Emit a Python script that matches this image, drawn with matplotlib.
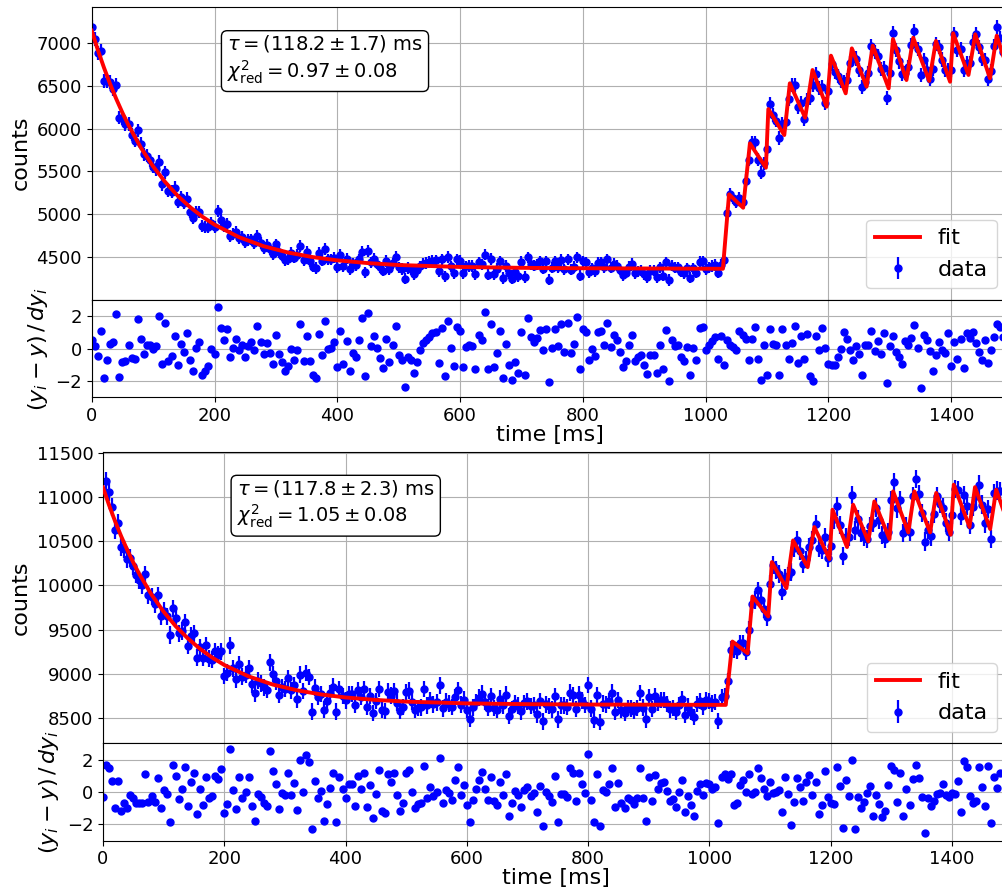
import numpy as np
import matplotlib
matplotlib.use("Agg")
import matplotlib.pyplot as plt

# ---- measurement 1 ----
# fit curve vertices (time in ms, counts)
fit1_t = [0, 10, 20, 30, 40, 50, 60, 80, 100, 120, 140, 160, 180, 200, 240, 280,
          320, 360, 400, 450, 500, 600, 700, 800, 1028,
          1038, 1061, 1072, 1098, 1102, 1128, 1137, 1162, 1174, 1197, 1204, 1228,
          1238, 1262, 1272, 1298, 1305, 1327, 1338, 1364, 1375, 1398, 1403, 1428,
          1439, 1463, 1474, 1496]
fit1_y = [7140, 6915, 6709, 6519, 6345, 6185, 6037, 5778, 5559, 5374, 5217, 5085,
          4974, 4880, 4734, 4629, 4555, 4502, 4464, 4432, 4410, 4387, 4377, 4372, 4366,
          5233, 5077, 5827, 5543, 6227, 5924, 6527, 6126, 6682, 6254, 6849, 6410,
          6934, 6487, 6965, 6468, 7043, 6565, 7058, 6554, 7020, 6545, 7110, 6624,
          7098, 6585, 7082, 6590]

# normalised residuals, one every 5 ms
res1 = [0.53, 0.18, -0.45, 1.08, -1.83, -0.69, 0.28, 0.37, 2.09, -1.75,
        -0.85, -0.77, 0.22, -0.57, -0.63, 1.81, 0.59, -0.32, 0.22, 0.24,
        -0.02, 0.14, 2.01, -0.95, 1.58, -0.79, -0.43, 0.77, -1.04, 0.30,
        -0.22, 0.93, -0.73, -1.40, 0.02, 0.41, -1.60, -1.36, -1.08, -0.06,
        -0.32, 2.54, 1.26, 0.53, 1.20, -0.53, 0.04, 0.61, -0.12, 0.22,
        -0.49, 0.14, 0.39, -0.08, 1.40, 0.41, -0.32, 0.35, -0.26, -0.93,
        0.85, -0.32, -0.81, -1.40, -1.08, -0.02, -0.69, -0.12, 1.50, -0.77,
        0.77, -0.77, -1.64, -1.81, 0.89, -0.39, 1.71, -0.02, 0.04, 0.39,
        -1.14, 1.06, -0.93, 0.43, -1.40, -0.28, -0.53, 0.49, 1.85, -1.69,
        2.15, 0.14, 0.79, 0.02, -0.59, -1.18, 0.59, -0.83, 0.22, 1.40,
        -0.39, -0.69, -2.36, -0.49, -0.69, -1.48, -0.83, -0.12, 0.35, 0.53,
        0.73, 0.93, 1.00, -0.89, 1.24, -1.71, 1.71, 0.04, -1.08, 1.30,
        1.08, -1.14, 0.10, 0.20, 0.18, -1.28, 0.85, 0.53, 2.21, -1.28,
        1.50, -1.16, -0.28, 1.08, -1.81, 0.28, -0.99, -1.91, -0.83, -1.48,
        1.04, -1.64, 1.87, 0.69, 0.39, 0.63, 1.14, -0.12, 1.20, -2.05,
        0.04, 1.18, 0.18, 1.50, -0.22, 1.56, -0.26, 0.28, 1.91, -1.28,
        1.20, 1.04, -0.69, -0.02, -0.47, 0.99, 1.08, 0.22, 1.56, 0.12,
        0.85, 0.49, -0.22, -1.14, -0.77, 0.24, 0.81, -0.79, -0.51, -0.39,
        -1.04, -1.56, -0.39, -0.39, -1.52, 0.22, -1.28, 1.12, -2.01, 0.49,
        0.18, 0.22, -0.55, -0.79, 0.08, -1.60, 0.04, -0.69, 1.24, 1.30,
        -0.12, 0.22, 0.47, 0.69, -0.67, 0.75, -1.04, 0.53, 0.24, 0.08,
        -0.08, 1.06, 0.83, 0.59, -0.73, 0.57, 1.30, -0.63, -1.95, 0.24,
        -1.64, 1.20, 0.30, 0.22, -1.64, 1.20, 0.22, -0.67, 0.35, 1.36,
        -0.89, 0.75, -0.63, 0.89, -1.69, -1.97, 0.75, -0.08, 1.24, 0.02,
        -0.93, -0.99, -1.04, -0.49, -0.02, 0.99, 0.57, -0.12, -0.69, 0.14,
        -0.32, -1.64, 0.22, 0.22, 1.10, -0.18, 0.45, -0.32, 0.97, -2.09,
        0.16, 0.77, -0.22, -0.53, -0.97, 0.45, 0.24, 0.63, 1.42, 0.06,
        -2.42, 0.85, 0.55, -0.18, -1.36, -0.39, 0.41, -0.12, -0.28, 0.95,
        -1.06, 0.39, -0.67, 0.61, -1.22, 0.93, 0.65, 0.99, 0.32, -0.22,
        -0.69, 0.53, -0.87, -0.12, 0.73, 1.48, 1.30, 0.69, -0.63]

# ---- measurement 2 ----
fit2_t = [0, 10, 20, 30, 40, 50, 60, 80, 100, 120, 140, 160, 180, 200, 240, 280,
          320, 360, 400, 450, 500, 600, 700, 800, 1027,
          1038, 1063, 1071, 1097, 1103, 1127, 1138, 1162, 1173, 1198, 1203, 1227,
          1237, 1262, 1272, 1297, 1303, 1328, 1338, 1364, 1374, 1398, 1403, 1429,
          1438, 1463, 1473, 1496]
fit2_y = [11110, 10910, 10726, 10557, 10402, 10259, 10128, 9897, 9703, 9538, 9400,
          9283, 9184, 9100, 8971, 8878, 8813, 8766, 8732, 8704, 8685, 8665, 8656,
          8652, 8648,
          9365, 9233, 9875, 9649, 10265, 9970, 10510, 10208, 10662, 10299, 10858,
          10435, 10915, 10499, 10952, 10526, 11066, 10601, 11066, 10601, 11048,
          10575, 11142, 10662, 11114, 10639, 11085, 10630]

res2 = [-0.33, 1.65, 1.45, 0.69, -0.96, 0.67, -1.16, -0.65, -0.96, -0.18,
        -0.39, -0.69, -0.69, -0.69, 1.12, -0.63, -0.22, -0.59, 0.88, -1.00,
        0.12, -0.12, -1.86, 1.67, 0.98, -0.45, 0.16, 1.51, -0.84, 0.63,
        1.20, -1.37, 0.16, -0.80, 0.94, -0.39, -0.24, 0.98, 0.78, 1.41,
        -1.31, -0.73, 2.67, 0.12, -1.02, 0.94, -0.39, 0.02, 0.94, -0.84,
        -1.78, -0.14, -0.33, -0.69, -0.84, 2.53, 1.27, 0.49, -1.06, -0.08,
        -0.18, 1.18, -0.18, 0.55, -1.10, 1.96, 0.02, 2.27, 1.86, -2.27,
        0.69, -0.35, 0.08, -1.78, -0.76, 0.27, 1.14, -1.86, 0.94, 0.16,
        -0.35, 0.47, 0.47, -0.84, 0.98, 0.18, 1.20, -0.94, 0.43, -1.61,
        -0.12, 1.37, -1.16, -1.31, 1.08, 0.63, 1.20, -0.18, -1.20, -0.69,
        1.20, 1.35, 0.02, -1.00, -0.73, -0.65, 1.59, -0.39, 0.31, -0.24,
        0.02, 2.10, -0.69, 0.14, -0.08, -0.49, 0.71, 1.55, -0.18, 0.45,
        -0.80, -1.84, -0.49, 0.16, 0.73, 1.22, 0.18, -0.49, 0.94, -0.53,
        -0.78, 0.63, -0.18, 1.12, -1.47, -0.65, 0.08, -0.18, -0.90, 0.12,
        0.33, -0.24, -0.08, -1.24, 0.37, -2.08, -0.02, -0.24, -0.63, 1.00,
        -1.82, -0.12, -0.12, -0.33, 1.45, 1.14, -0.53, 1.20, 0.47, -0.04,
        2.37, -0.49, -1.86, 1.12, -2.12, 0.12, 0.02, 0.47, 1.45, -0.90,
        0.53, -0.69, -1.00, -0.39, -0.49, -0.73, -0.39, 1.45, -0.35, -1.78,
        0.94, -0.55, 1.06, 0.18, 0.57, 0.59, 0.06, -0.57, -0.41, -0.90,
        -0.02, 0.73, -1.24, -0.22, -0.82, -1.49, 0.08, 0.47, -0.18, 0.53,
        0.47, 0.16, 0.33, -1.94, 0.94, 1.10, 0.80, 1.10, -0.80, -0.67,
        0.43, 0.76, -0.02, 1.10, -0.10, -0.02, 1.49, 0.84, 0.20, -0.22,
        0.59, -0.08, -0.02, 0.12, -1.24, 0.94, -0.12, -2.06, -0.63, 0.86,
        0.29, -0.55, 0.61, 1.06, -0.18, 0.61, -1.33, -0.80, 1.31, -0.31,
        -0.69, -0.71, 1.55, 0.35, -2.22, 0.76, -0.27, 1.96, -2.31, -0.31,
        -0.98, -0.59, -0.08, 0.35, -1.47, -0.18, -0.73, -1.57, -1.16, 0.43,
        1.63, 1.33, -0.59, 1.20, -1.49, 0.18, -0.80, 0.78, 1.69, 0.88,
        -0.31, -2.55, -0.39, -0.88, -0.55, -0.14, -0.06, 0.49, -0.20, -0.29,
        -0.04, -0.10, 0.67, -1.24, 1.88, 1.57, -0.24, -0.67, -0.57, 1.53,
        0.29, -0.84, 1.63, -1.92, 0.90, 0.27, 1.20]

labels = [r"$\tau = (118.2 \pm 1.7)$ ms" + "\n" + r"$\chi^2_\mathrm{red} = 0.97 \pm 0.08$",
          r"$\tau = (117.8 \pm 2.3)$ ms" + "\n" + r"$\chi^2_\mathrm{red} = 1.05 \pm 0.08$"]


def data_from_residuals(res, ft, fy):
    t = 5 * np.arange(len(res))
    f = np.interp(t, ft, fy)
    dy = np.sqrt(f)
    return t, f + np.array(res) * dy, dy


W, H = 1003., 892.
fig = plt.figure(figsize=(10.03, 8.92), dpi=100)

# pixel boxes: left, top of main, bottom of main, bottom of residual, width
boxes = [(91.7, 7.0, 299.5, 397.5, 916.0),
         (103.0, 451.7, 743.3, 840.7, 905.0)]
ylims = [(4008, 7416), (8213, 11515)]
xmax = [916.0 / 0.614, 905.0 / 0.6064]
sets = [(res1, fit1_t, fit1_y), (res2, fit2_t, fit2_y)]

for i in range(2):
    left, top, mid, bot, wid = boxes[i]
    ax = fig.add_axes([left / W, 1 - mid / H, wid / W, (mid - top) / H])
    axr = fig.add_axes([left / W, 1 - bot / H, wid / W, (bot - mid) / H])
    res, ft, fy = sets[i]
    t, y, dy = data_from_residuals(res, ft, fy)

    ax.errorbar(t, y, yerr=dy, fmt='o', color='b', ms=5, elinewidth=1.6,
                label='data', zorder=2)
    ax.plot(ft, fy, 'r-', lw=2.8, label='fit', zorder=3)
    ax.set_xlim(0, xmax[i])
    ax.set_ylim(*ylims[i])
    ax.grid(True)
    ax.set_ylabel("counts", fontsize=16)
    ax.tick_params(labelsize=13, labelbottom=False)
    ax.legend(loc='lower right', fontsize=16)
    ax.text(0.148, 0.91, labels[i], transform=ax.transAxes, va='top', ha='left',
            fontsize=14, bbox=dict(boxstyle='round', facecolor='white', edgecolor='black'))

    axr.plot(t, res, 'bo', ms=5)
    axr.set_xlim(0, xmax[i])
    axr.set_ylim(-3, 3)
    axr.set_yticks([-2, 0, 2])
    axr.grid(True)
    axr.tick_params(labelsize=13)
    axr.set_xlabel("time [ms]", fontsize=16, labelpad=0)
    axr.set_ylabel(r"$(y_i - y)\,/\,dy_i$", fontsize=16)

fig.savefig('out.png', dpi=100)
